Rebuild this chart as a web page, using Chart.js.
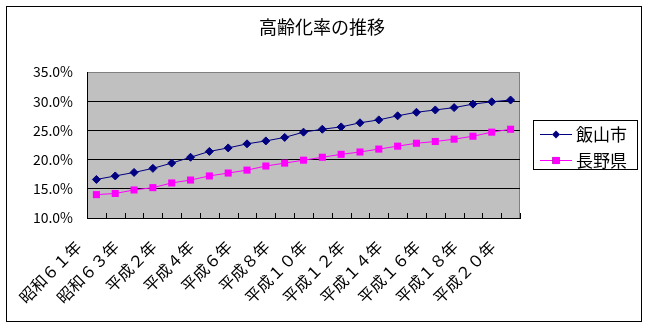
<!DOCTYPE html>
<html>
<head>
<meta charset="utf-8">
<script src="https://cdn.jsdelivr.net/npm/chart.js@4/dist/chart.umd.min.js"></script>
<style>
  html, body { margin: 0; padding: 0; background: #fff; }
  #wrap { width: 648px; height: 327px; }
</style>
</head>
<body>
<div id="wrap"><canvas id="chart" width="648" height="327"></canvas></div>
<script>
// 年次
var years = ['昭和６１年', '昭和６２年', '昭和６３年', '平成元年', '平成２年', '平成３年', '平成４年',
    '平成５年', '平成６年', '平成７年', '平成８年', '平成９年', '平成１０年', '平成１１年', '平成１２年',
    '平成１３年', '平成１４年', '平成１５年', '平成１６年', '平成１７年', '平成１８年', '平成１９年', '平成２０年'];
// 高齢化率 (%)
var iiyama = [16.6, 17.2, 17.8, 18.5, 19.4, 20.4, 21.4, 22.0, 22.7, 23.2, 23.8, 24.7,
    25.2, 25.6, 26.3, 26.8, 27.5, 28.1, 28.5, 28.9, 29.5, 29.9, 30.2];
var nagano = [14.0, 14.2, 14.8, 15.2, 16.0, 16.5, 17.2, 17.7, 18.2, 18.9, 19.4, 19.9,
    20.4, 20.9, 21.3, 21.8, 22.3, 22.8, 23.1, 23.5, 24.0, 24.7, 25.2];
var yTicks = [10, 15, 20, 25, 30, 35];
var title = '高齢化率の推移';

var FONT = "'Noto Sans CJK JP', 'Noto Sans', sans-serif";

// plot area background + border, inside x ticks, frame, title, legend
var plotArea = {
    id: 'plotArea',
    beforeDraw: function (chart) {
        var a = chart.chartArea, ctx = chart.ctx;
        ctx.save();
        ctx.fillStyle = '#C0C0C0';
        ctx.fillRect(a.left, a.top, a.right - a.left, a.bottom - a.top);
        ctx.strokeStyle = '#808080';
        ctx.lineWidth = 1;
        ctx.strokeRect(a.left + 0.5, a.top + 0.5, a.right - a.left - 1, a.bottom - a.top);
        ctx.restore();
    },
    afterDraw: function (chart) {
        var ctx = chart.ctx;
        var xs = chart.scales.x;
        var a = chart.chartArea;
        var half = (xs.getPixelForValue(1) - xs.getPixelForValue(0)) / 2;
        ctx.save();
        ctx.strokeStyle = '#000';
        ctx.lineWidth = 1;
        ctx.beginPath();
        for (var i = 0; i <= years.length; i++) {
            var x = Math.round(xs.getPixelForValue(i) - half) + 0.5;
            ctx.moveTo(x, a.bottom);
            ctx.lineTo(x, a.bottom - 5);
        }
        ctx.stroke();
        // outer frame
        ctx.strokeRect(6.5, 6.5, 635, 315);

        // title
        ctx.fillStyle = '#000';
        ctx.font = '18px ' + FONT;
        ctx.textAlign = 'center';
        ctx.textBaseline = 'middle';
        ctx.fillText(title, 322, 27);

        // legend
        var lx = 533, ly = 120, lw = 104, lh = 49;
        ctx.fillStyle = '#fff';
        ctx.fillRect(lx, ly, lw, lh);
        ctx.strokeRect(lx + 0.5, ly + 0.5, lw, lh);
        ctx.font = '17px ' + FONT;
        ctx.textAlign = 'left';
        var rows = [134, 160];
        chart.data.datasets.forEach(function (ds, k) {
            var y = rows[k] + 0.5;
            ctx.strokeStyle = ds.borderColor;
            ctx.beginPath();
            ctx.moveTo(540, y);
            ctx.lineTo(572, y);
            ctx.stroke();
            Chart.helpers.drawPoint(ctx, {
                pointStyle: ds.pointStyle, radius: ds.pointRadius, borderWidth: 0
            }, 556, y);
            ctx.fillStyle = ds.pointBackgroundColor;
            ctx.fill();
            ctx.fillStyle = '#000';
            ctx.fillText(ds.label, 576, y);
        });
        ctx.restore();
    }
};

new Chart(document.getElementById('chart'), {
    type: 'line',
    data: {
        labels: years,
        datasets: [
            {
                label: '飯山市',
                data: iiyama,
                borderColor: '#000080',
                backgroundColor: '#000080',
                pointBackgroundColor: '#000080',
                pointBorderColor: '#000080',
                pointStyle: 'rectRot',
                pointRadius: 4,
                borderWidth: 1,
                pointBorderWidth: 1
            },
            {
                label: '長野県',
                data: nagano,
                borderColor: '#FF00FF',
                backgroundColor: '#FF00FF',
                pointBackgroundColor: '#FF00FF',
                pointBorderColor: '#FF00FF',
                pointStyle: 'rect',
                pointRadius: 5,
                borderWidth: 1,
                pointBorderWidth: 0
            }
        ]
    },
    options: {
        responsive: false,
        animation: false,
        layout: { padding: { top: 72, left: 6, right: 128, bottom: 6 } },
        plugins: {
            legend: { display: false },
            tooltip: { enabled: false },
            title: { display: false }
        },
        scales: {
            x: {
                offset: true,
                grid: { display: true, drawOnChartArea: false, drawTicks: false },
                border: { color: '#000', width: 1 },
                ticks: {
                    autoSkip: false,
                    minRotation: 45,
                    maxRotation: 45,
                    padding: 19,
                    labelOffset: -18,
                    color: '#000',
                    font: { family: FONT, size: 16 },
                    callback: function (v, i) {
                        return i % 2 === 0 ? this.getLabelForValue(v) : '';
                    }
                },
                afterFit: function (s) { s.height = 103; }
            },
            y: {
                min: 10,
                max: 35,
                afterBuildTicks: function (s) {
                    s.ticks = yTicks.map(function (v) { return { value: v }; });
                },
                grid: {
                    drawTicks: false,
                    color: function (c) {
                        return (c.tick && (c.tick.value === 10 || c.tick.value === 35)) ? 'rgba(0,0,0,0)' : '#000';
                    }
                },
                border: { color: '#000', width: 1 },
                ticks: {
                    padding: 14,
                    color: '#000',
                    font: { family: FONT, size: 14 },
                    callback: function (v) { return v.toFixed(1) + '%'; }
                },
                afterFit: function (s) { s.width = 81; }
            }
        }
    },
    plugins: [plotArea]
});
</script>
</body>
</html>
